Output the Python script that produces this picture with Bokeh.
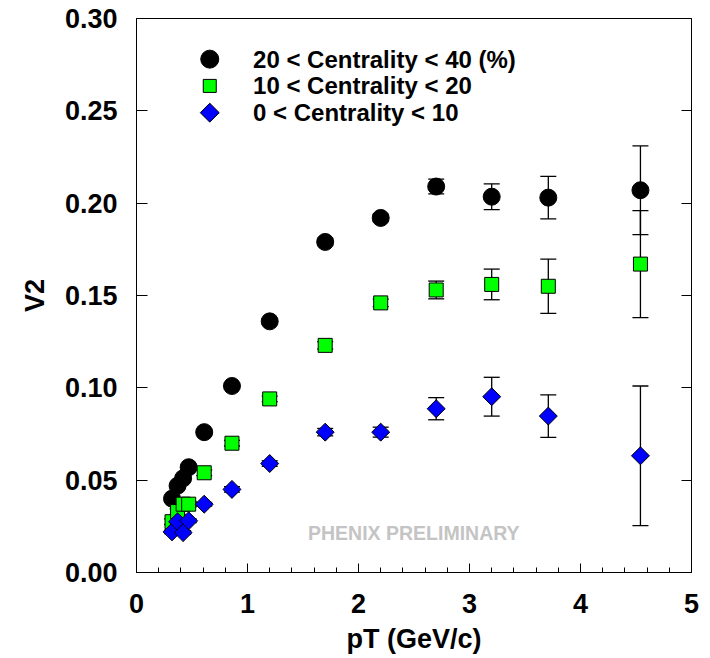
import math
from bokeh.plotting import figure
from bokeh.models import (Range1d, LinearAxis, SingleIntervalTicker, FixedTicker, Whisker, TeeHead,
                          ColumnDataSource, Label, NumeralTickFormatter)
from bokeh.embed import file_html
from bokeh.resources import INLINE

# ---------------- data ----------------
PT = [0.32, 0.37, 0.42, 0.47, 0.61, 0.86, 1.20, 1.70, 2.20, 2.70, 3.20, 3.71, 4.54]

V2_20_40 = [0.040, 0.047, 0.051, 0.057, 0.076, 0.101, 0.136, 0.179, 0.192, 0.209, 0.2035, 0.203, 0.207]
ERR_20_40 = [0.001, 0.001, 0.001, 0.001, 0.0015, 0.0015, 0.0015, 0.002, 0.002, 0.004, 0.007, 0.0115, 0.024]

V2_10_20 = [0.0275, 0.033, 0.037, 0.037, 0.054, 0.070, 0.094, 0.123, 0.146, 0.153, 0.156, 0.155, 0.167]
ERR_10_20 = [0.0015, 0.0015, 0.0015, 0.0015, 0.0015, 0.0015, 0.0015, 0.002, 0.002, 0.0048, 0.0083, 0.0147, 0.029]

V2_0_10 = [0.022, 0.0275, 0.0216, 0.028, 0.037, 0.045, 0.059, 0.076, 0.076, 0.0887, 0.0952, 0.0847, 0.0632]
ERR_0_10 = [0.001, 0.001, 0.001, 0.001, 0.001, 0.0015, 0.0015, 0.002, 0.0027, 0.006, 0.0105, 0.0115, 0.0378]

Y_TICKS = [0.00, 0.05, 0.10, 0.15, 0.20, 0.25, 0.30]
X_TICKS = [0, 1, 2, 3, 4, 5]

LEGEND_LABELS = ["20 < Centrality < 40 (%)", "10 < Centrality < 20", "0 < Centrality < 10"]
X_TITLE = "pT (GeV/c)"
Y_TITLE = "V2"
WATERMARK = "PHENIX PRELIMINARY"

# ---------------- styling ----------------
FONT = "Liberation Sans"
GREEN = "#00ff00"
BLUE = "#0000ff"

p = figure(frame_width=555, frame_height=554,
           x_range=Range1d(0, 5), y_range=Range1d(0, 0.30),
           output_backend="svg", toolbar_location=None,
           min_border_left=136, min_border_right=19, min_border_top=18, min_border_bottom=86,
           x_axis_label=X_TITLE, y_axis_label=Y_TITLE)
p.xgrid.visible = False
p.ygrid.visible = False
p.outline_line_color = "black"
p.outline_line_width = 1
p.background_fill_color = "white"
p.border_fill_color = "white"

for ax in p.axis:
    ax.major_label_text_font = FONT
    ax.major_label_text_font_style = "bold"
    ax.major_label_text_font_size = "27px"
    ax.major_label_text_color = "black"
    ax.axis_label_text_font = FONT
    ax.axis_label_text_font_style = "bold"
    ax.axis_label_text_font_size = "27px"
    ax.axis_label_text_color = "black"
    ax.axis_line_color = "black"
    ax.major_tick_line_color = "black"
    ax.minor_tick_line_color = "black"

# x axis
xa = p.xaxis[0]
xa.ticker = FixedTicker(ticks=X_TICKS,
                        minor_ticks=[t / 5 for t in range(0, 26)])
xa.major_tick_in = 9
xa.major_tick_out = 0
xa.minor_tick_in = 5
xa.minor_tick_out = 0
xa.major_label_standoff = 21
xa.axis_label_standoff = 8

# y axis
ya = p.yaxis[0]
ya.ticker = FixedTicker(ticks=Y_TICKS)
ya.formatter = NumeralTickFormatter(format="0.00")
ya.major_tick_in = 11
ya.major_tick_out = 0
ya.minor_tick_line_color = None
ya.major_label_standoff = 19
ya.axis_label_standoff = 12

# right axis (ticks only, labels not drawn)
ra = LinearAxis(ticker=FixedTicker(ticks=Y_TICKS),
                major_tick_in=10, major_tick_out=0, minor_tick_line_color=None,
                major_label_text_font_size="1px", major_label_text_color=None,
                major_label_standoff=0,
                axis_line_color="black", major_tick_line_color="black")
p.add_layout(ra, "right")


def add_errors(x, y, e):
    src = ColumnDataSource(dict(x=x, upper=[a + b for a, b in zip(y, e)],
                                lower=[a - b for a, b in zip(y, e)]))
    w = Whisker(source=src, base="x", upper="upper", lower="lower", dimension="height",
                line_color="black", line_width=1.3, level="underlay",
                upper_head=TeeHead(size=16, line_color="black", line_width=1.3),
                lower_head=TeeHead(size=16, line_color="black", line_width=1.3))
    p.add_layout(w)


add_errors(PT, V2_20_40, ERR_20_40)
add_errors(PT, V2_10_20, ERR_10_20)
add_errors(PT, V2_0_10, ERR_0_10)

p.scatter(PT, V2_20_40, marker="circle", size=17, fill_color="black", line_color="black")
p.scatter(PT, V2_10_20, marker="square", size=14, fill_color=GREEN, line_color="black", line_width=1)
p.scatter(PT, V2_0_10, marker="square", angle=math.pi / 4, size=12.7,
          fill_color=BLUE, line_color="black", line_width=1)

# ---------------- legend (drawn manually, inside the frame) ----------------
LEG_MARK_X = 0.66
LEG_TEXT_X = 1.05
LEG_ROWS = [0.278, 0.2635, 0.249]
p.scatter([LEG_MARK_X], [LEG_ROWS[0]], marker="circle", size=18, fill_color="black", line_color="black")
p.scatter([LEG_MARK_X], [LEG_ROWS[1]], marker="square", size=13, fill_color=GREEN, line_color="black")
p.scatter([LEG_MARK_X], [LEG_ROWS[2]], marker="square", angle=math.pi / 4, size=13.4,
          fill_color=BLUE, line_color="black")
for lbl, yy in zip(LEGEND_LABELS, LEG_ROWS):
    p.add_layout(Label(x=LEG_TEXT_X, y=yy, text=lbl, text_font=FONT, text_font_style="bold",
                       text_font_size="24px", text_baseline="middle", text_align="left",
                       text_color="black"))

p.add_layout(Label(x=1.545, y=0.0214, text=WATERMARK, text_font=FONT, text_font_style="bold",
                   text_font_size="19.5px", text_baseline="middle", text_align="left",
                   text_color="#c4c4c4"))

open("out.html", "w").write(file_html(p, INLINE))
